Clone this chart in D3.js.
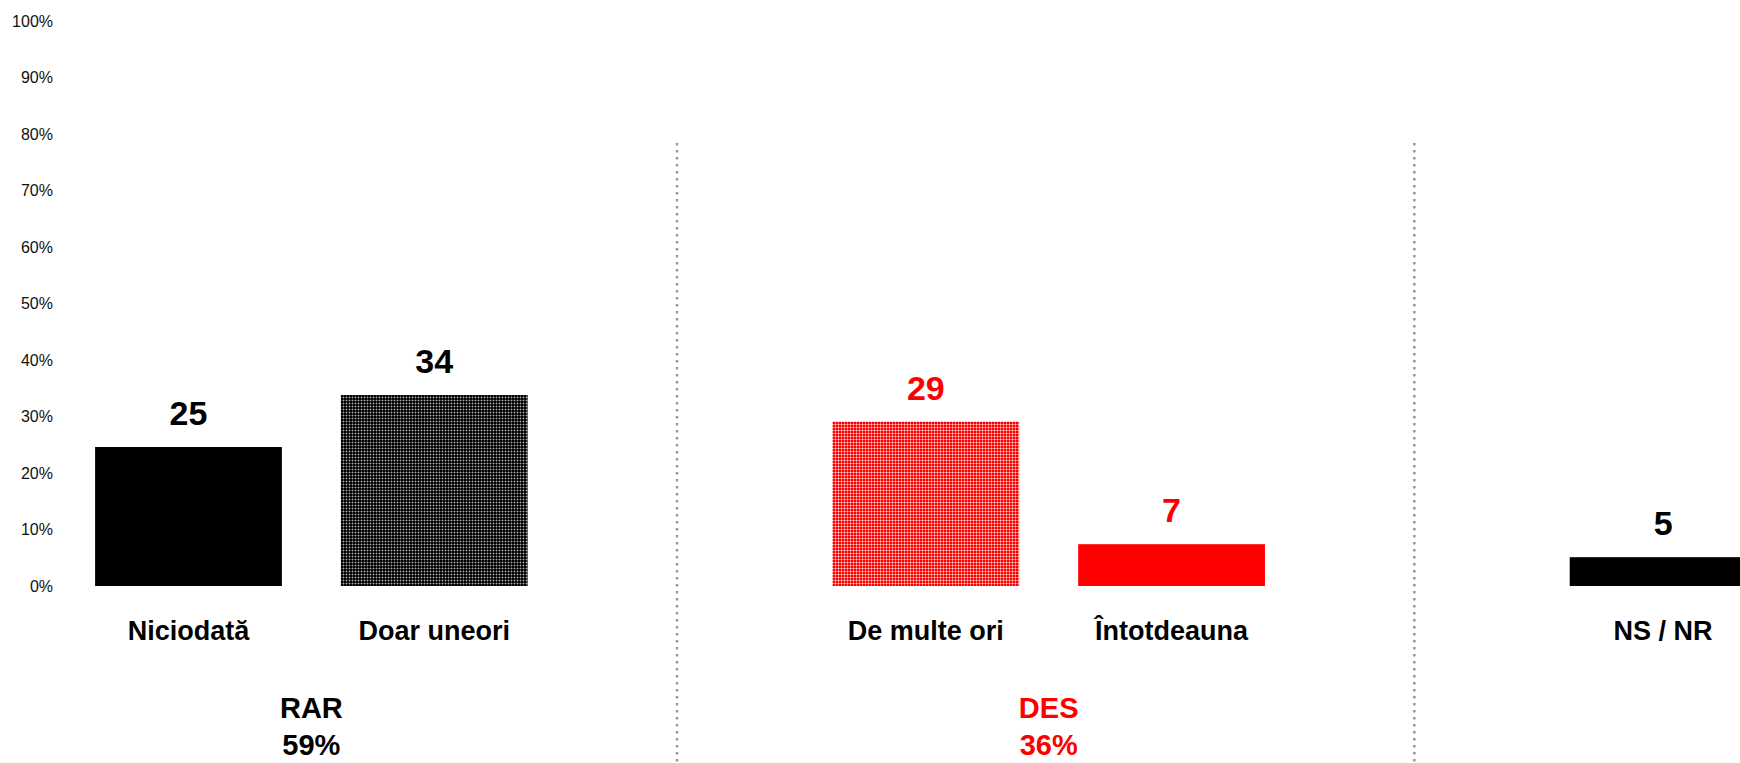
<!DOCTYPE html>
<html>
<head>
<meta charset="utf-8">
<script src="https://cdn.jsdelivr.net/npm/d3@7"></script>
<style>
  body { margin: 0; background: #fff; }
  svg { display: block; font-family: "Liberation Sans", Arial, sans-serif; }
</style>
</head>
<body>
<svg id="chart" width="1740" height="763"></svg>
<script>
// data
const categories = ["Niciodată", "Doar uneori", "De multe ori", "Întotdeauna", "NS / NR"];
const values = [24.6, 33.8, 29.1, 7.4, 5.1];
const fills = ["black", "dotsBlack", "dotsRed", "red", "black"];
const groupNames = ["RAR", "DES"];
const groupTotals = ["59%", "36%"];
const groupMembers = [[0, 1], [2, 3]];
const yTicks = [0, 10, 20, 30, 40, 50, 60, 70, 80, 90, 100];

// slots along x, separators sit in the empty ones
const slots = ["Niciodată", "Doar uneori", "sep1", "De multe ori", "Întotdeauna", "sep2", "NS / NR"];
const separators = ["sep1", "sep2"];

const RED = "#ff0000";

const svg = d3.select("#chart");

const x = d3.scaleBand()
    .domain(slots)
    .range([65.6, 1786])
    .paddingInner(0.24)
    .paddingOuter(0.12);

const y = d3.scaleLinear()
    .domain([0, 100])
    .range([586, 21]);

// patterns for the hatched bars
const defs = svg.append("defs");
function dotPattern(id, base, line, spot) {
    const p = defs.append("pattern")
        .attr("id", id)
        .attr("patternUnits", "userSpaceOnUse")
        .attr("width", 3).attr("height", 3);
    p.append("rect").attr("width", 3).attr("height", 3).attr("fill", base);
    p.append("rect").attr("x", 1).attr("width", 1).attr("height", 3).attr("fill", line);
    p.append("rect").attr("y", 1).attr("width", 3).attr("height", 1).attr("fill", line);
    p.append("rect").attr("x", 1).attr("y", 1).attr("width", 1).attr("height", 1).attr("fill", spot);
}
dotPattern("dotsBlack", "#000", "#3c3c3c", "#b4b4b4");
dotPattern("dotsRed", RED, "#ff7070", "#ffd0d0");

function fillOf(f) {
    if (f === "black") return "#000";
    if (f === "red") return RED;
    return "url(#" + f + ")";
}
function textColor(i) {
    return (i === 2 || i === 3) ? RED : "#000";
}

// y axis: labels only
const yAxis = d3.axisLeft(y)
    .tickValues(yTicks)
    .tickSize(0)
    .tickPadding(0)
    .tickFormat(d => d + "%");

svg.append("g")
    .attr("transform", "translate(53,0)")
    .call(yAxis)
    .call(g => g.select(".domain").remove())
    .selectAll("text")
    .attr("font-family", "'Liberation Sans', Arial, sans-serif")
    .attr("font-size", 16)
    .attr("fill", "#111");

// dotted separators
svg.append("g")
    .selectAll("line")
    .data(separators)
    .enter().append("line")
    .attr("x1", d => x(d) + x.bandwidth() / 2 - 3)
    .attr("x2", d => x(d) + x.bandwidth() / 2 - 3)
    .attr("y1", 143)
    .attr("y2", 763)
    .attr("stroke", "#999")
    .attr("stroke-width", 2.5)
    .attr("stroke-dasharray", "2.5 4.5");

// bars
svg.append("g")
    .selectAll("rect")
    .data(categories)
    .enter().append("rect")
    .attr("x", d => x(d))
    .attr("y", (d, i) => y(values[i]))
    .attr("width", x.bandwidth())
    .attr("height", (d, i) => y(0) - y(values[i]))
    .attr("fill", (d, i) => fillOf(fills[i]));

// value labels
svg.append("g")
    .selectAll("text")
    .data(categories)
    .enter().append("text")
    .attr("x", d => x(d) + x.bandwidth() / 2)
    .attr("y", (d, i) => y(values[i]) - 22)
    .attr("text-anchor", "middle")
    .attr("font-size", 34)
    .attr("font-weight", "bold")
    .attr("fill", (d, i) => textColor(i))
    .text((d, i) => d3.format(".0f")(values[i]));

// category labels
svg.append("g")
    .selectAll("text")
    .data(categories)
    .enter().append("text")
    .attr("x", d => x(d) + x.bandwidth() / 2)
    .attr("y", 640)
    .attr("text-anchor", "middle")
    .attr("font-size", 27)
    .attr("font-weight", "bold")
    .attr("fill", "#000")
    .text(d => d);

// group labels
const grp = svg.append("g")
    .selectAll("g")
    .data(groupNames)
    .enter().append("g")
    .attr("fill", (d, i) => i === 1 ? RED : "#000")
    .attr("font-size", 29)
    .attr("font-weight", "bold")
    .attr("text-anchor", "middle");

function groupCenter(i) {
    const m = groupMembers[i];
    const a = x(categories[m[0]]), b = x(categories[m[m.length - 1]]);
    return (a + b + x.bandwidth()) / 2;
}

grp.append("text")
    .attr("x", (d, i) => groupCenter(i))
    .attr("y", 718)
    .text(d => d);

grp.append("text")
    .attr("x", (d, i) => groupCenter(i))
    .attr("y", 755)
    .text((d, i) => groupTotals[i]);
</script>
</body>
</html>
